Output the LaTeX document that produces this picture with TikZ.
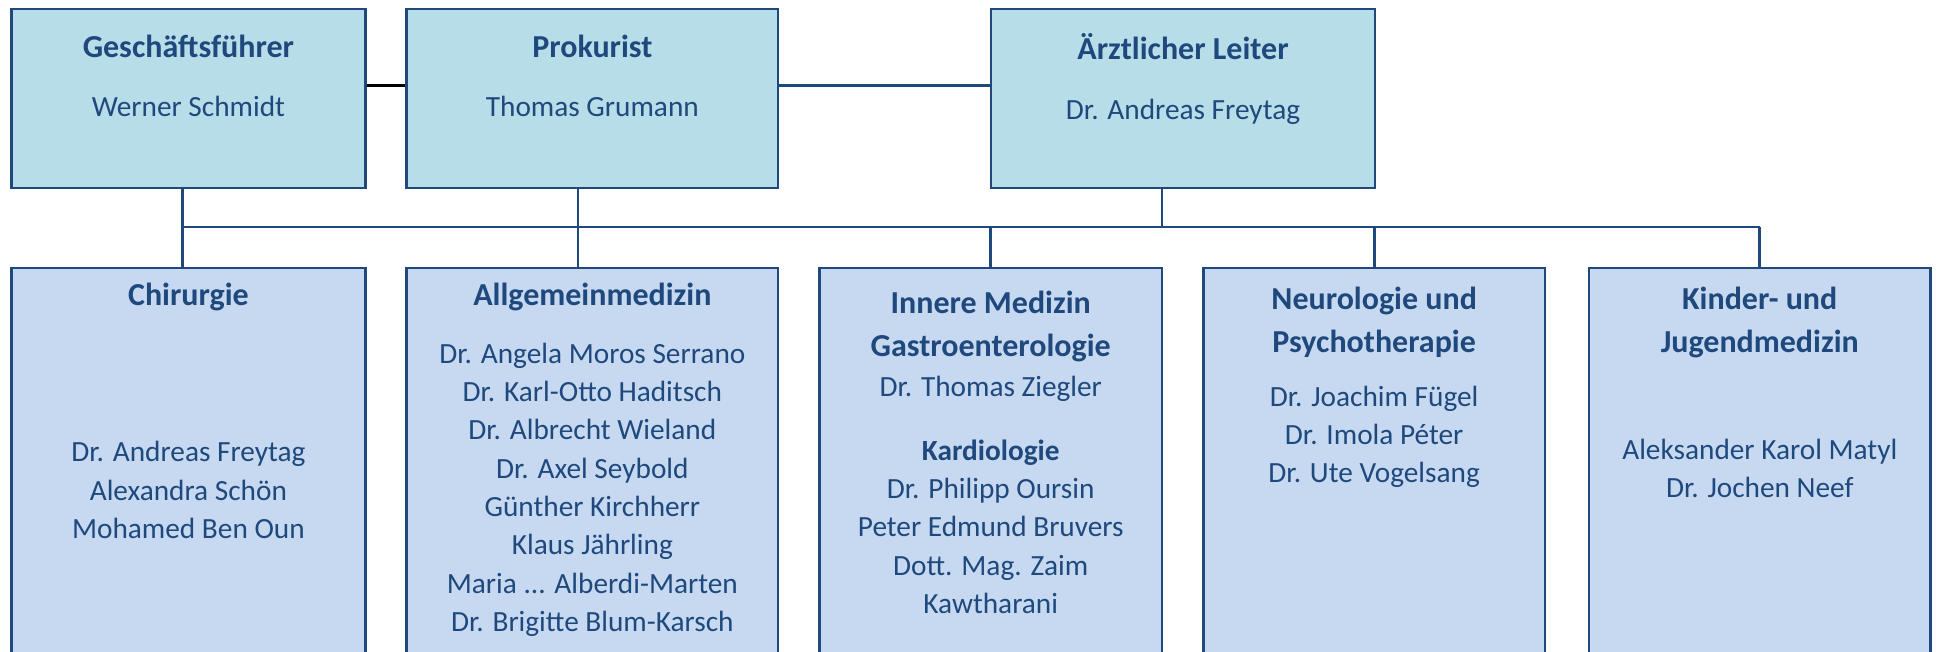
\documentclass[tikz,border=0pt]{standalone}
\usepackage{fontspec}
\setmainfont{Carlito}
\usepackage{tikz}
\usetikzlibrary{positioning}
\definecolor{boxline}{RGB}{31,73,125}
\definecolor{topfill}{RGB}{183,221,232}
\definecolor{depfill}{RGB}{198,217,241}
\newcommand{\headsize}{\fontsize{16}{21.3}\selectfont\bfseries}
\newcommand{\namesize}{\fontsize{14.65}{19.15}\selectfont}

\begin{document}
\begin{tikzpicture}[x=0.5pt,y=-0.5pt]
        \tikzstyle{every node}+=[inner sep=0pt]
        \tikzstyle{topbox}=[draw=boxline, line width=1.4pt, fill=topfill, minimum height=89.5pt]
        \tikzstyle{depbox}=[draw=boxline, line width=1.4pt, fill=depfill, minimum height=216pt]
        \tikzstyle{headtext}=[text=boxline, align=center, font=\headsize]
        \tikzstyle{nametext}=[text=boxline, align=center, font=\namesize]
        \tikzstyle{link}=[draw=boxline, line width=1.4pt]
        \clip (0,0) rectangle (1936,652);
        \node [topbox, minimum width=176.9pt] (gf) at (188.4,98.5) {};
        \node [topbox, minimum width=185.65pt] (pk) at (592.35,98.5) {};
        \node [topbox, minimum width=192pt] (al) at (1183,98.5) {};
        \node [depbox, minimum width=176.9pt] (chir) at (188.4,484) {};
        \node [depbox, minimum width=185.65pt] (allg) at (592.35,484) {};
        \node [depbox, minimum width=171.25pt] (inn) at (990.75,484) {};
        \node [depbox, minimum width=170.85pt] (neu) at (1374.15,484) {};
        \node [depbox, minimum width=170.75pt] (kin) at (1759.75,484) {};
        \node [headtext] (gfhead) at (188.4,46.7) {Geschäftsführer};
        \node [nametext] (gfname) at (188.4,106.7) {Werner Schmidt};
        \node [headtext] (pkhead) at (592.35,46.7) {Prokurist};
        \node [nametext] (pkname) at (592.35,106.7) {Thomas Grumann};
        \node [headtext] (alhead) at (1183,46.7) {Ärztlicher Leiter};
        \node [nametext] (alname) at (1183,111.7) {Dr. Andreas Freytag};
        \node [headtext] (chirhead) at (188.4,296.7) {Chirurgie};
        \node [nametext] (chirnames) at (188.4,490) {Dr. Andreas Freytag\\Alexandra Schön\\Mohamed Ben Oun};
        \node [headtext] (allghead) at (592.35,296.7) {Allgemeinmedizin};
        \node [nametext] (allgnames) at (592.35,489.7) {Dr. Angela Moros Serrano\\Dr. Karl-Otto Haditsch\\Dr. Albrecht Wieland\\Dr. Axel Seybold\\Günther Kirchherr\\Klaus Jährling\\Maria ... Alberdi-Marten\\Dr. Brigitte Blum-Karsch};
        \node [headtext] (innhead) at (990.75,326.3) {Innere Medizin\\Gastroenterologie};
        \node [nametext] (innname) at (990.75,389.3) {Dr. Thomas Ziegler};
        \node [nametext] (kardnames) at (990.75,526.7) {\textbf{Kardiologie}\\Dr. Philipp Oursin\\Peter Edmund Bruvers\\Dott. Mag. Zaim\\Kawtharani};
        \node [headtext] (neuhead) at (1374.15,322.2) {Neurologie und\\Psychotherapie};
        \node [nametext] (neunames) at (1374.15,436.9) {Dr. Joachim Fügel\\Dr. Imola Péter\\Dr. Ute Vogelsang};
        \node [headtext] (kinhead) at (1759.75,322.2) {Kinder- und\\Jugendmedizin};
        \node [nametext] (kinnames) at (1759.75,468.5) {Aleksander Karol Matyl\\Dr. Jochen Neef};
        \draw [black, line width=1.4pt] (gf.east |- 0,85.3) -- (pk.west |- 0,85.3);
        \draw [link] (pk.east |- 0,85.3) -- (al.west |- 0,85.3);
        \coordinate (j1) at (182.7,227);
        \coordinate (j2) at (578,227);
        \coordinate (j3) at (1162,227);
        \draw [link] (j1) -- (kin.north |- j1);
        \draw [link] (gf.south -| j1) -- (chir.north -| j1);
        \draw [link] (pk.south -| j2) -- (allg.north -| j2);
        \draw [link] (al.south -| j3) -- (j3);
        \draw [link] (inn.north |- j1) -- (inn.north);
        \draw [link] (neu.north |- j1) -- (neu.north);
        \draw [link] (kin.north |- j1) -- (kin.north);
\end{tikzpicture}
\end{document}
